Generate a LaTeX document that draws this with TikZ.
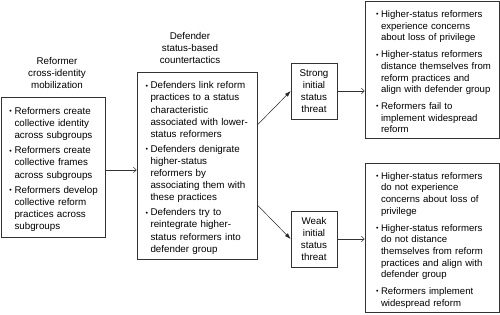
\documentclass[tikz,border=0pt]{standalone}
\usepackage{fontspec}
\setmainfont{Liberation Sans}
\usetikzlibrary{arrows.meta}
% one bullet point with hanging indent
\newlength{\bulw}\setlength{\bulw}{6.5pt}
\newcommand{\bitem}[1]{\par\hangindent=\bulw\hangafter=1\noindent
  \makebox[\bulw][l]{\hspace{\dimexpr\bulw-5pt\relax}\raisebox{0.8pt}{\fontsize{7}{7}\selectfont\textbullet}}#1\par}
\begin{document}
\begin{tikzpicture}[x=1pt, y=-1pt, font=\fontsize{9.8}{11.8}\selectfont,
  box/.style={draw=black!80, line width=0.6pt, align=left, inner xsep=7pt, inner ysep=0pt},
  tight/.style={font=\fontsize{9.8}{12.1}\selectfont,
    execute at begin node={\setlength{\parskip}{3pt}\vspace*{-3pt}}},
  loose/.style={font=\fontsize{9.6}{11.6}\selectfont, inner xsep=6pt, text width=122pt,
    minimum width=134pt, execute at begin node={\setlength{\bulw}{10pt}\setlength{\parskip}{5.5pt}\vspace*{-5.5pt}}},
  head/.style={align=center, inner sep=0pt},
  threat/.style={draw=black!80, line width=0.6pt, align=center, minimum width=46pt, minimum height=56pt, inner sep=0pt},
  flow/.style={draw=black!80, line width=0.5pt, -{Straight Barb[length=3pt,width=5.5pt]}},
  split/.style={draw=black!85, line width=0.5pt, -{Latex[length=6pt,width=4pt]}}]
  \useasboundingbox (0,0) rectangle (500,315);
  % headings
  \node[head] (mobilhead) at (57,73) {Reformer\\cross-identity\\mobilization};
  \node[head] (counterhead) at (190,48) {Defender\\status-based\\countertactics};
  % bullet boxes
  \node[box, tight, text width=90pt, minimum width=104pt, minimum height=140pt] (mobil) at (53,167) {%
    \bitem{Reformers create\newline collective identity\newline across subgroups}
    \bitem{Reformers create\newline collective frames\newline across subgroups}
    \bitem{Reformers develop\newline collective reform\newline practices across\newline subgroups}};
  \node[box, tight, text width=106pt, minimum width=120pt, minimum height=187pt] (counter) at (197,165.5) {%
    \bitem{Defenders link reform\newline practices to a status\newline characteristic\newline associated with lower-\newline status reformers}
    \bitem{Defenders denigrate\newline higher-status\newline reformers by\newline associating them with\newline these practices}
    \bitem{Defenders try to\newline reintegrate higher-\newline status reformers into\newline defender group}};
  \node[box, loose, minimum height=137pt] (fail) at (432,69.5) {%
    \bitem{Higher-status reformers\newline experience concerns\newline about loss of privilege}
    \bitem{Higher-status reformers\newline distance themselves from\newline reform practices and\newline align with defender group}
    \bitem{Reformers fail to\newline implement widespread\newline reform}};
  \node[box, loose, minimum height=149pt] (succeed) at (432,238) {%
    \bitem{Higher-status reformers\newline do not experience\newline concerns about loss of\newline privilege}
    \bitem{Higher-status reformers\newline do not distance\newline themselves from reform\newline practices and align with\newline defender group}
    \bitem{Reformers implement\newline widespread reform}};
  % threat level
  \node[threat] (strong) at (314,91) {Strong\\initial\\status\\threat};
  \node[threat] (weak) at (314,239) {Weak\\initial\\status\\threat};
  % connectors
  \draw[flow] ([yshift=-3pt]mobil.east) -- ([yshift=-3pt]mobil.east -| counter.west);
  \draw[split] ([yshift=40.5pt]counter.east) -- (strong.west);
  \draw[split] ([yshift=-39.5pt]counter.east) -- (weak.west);
  \draw[flow] (strong.east) -- (strong.east -| fail.west);
  \draw[flow] (weak.east) -- (weak.east -| succeed.west);
\end{tikzpicture}
\end{document}
